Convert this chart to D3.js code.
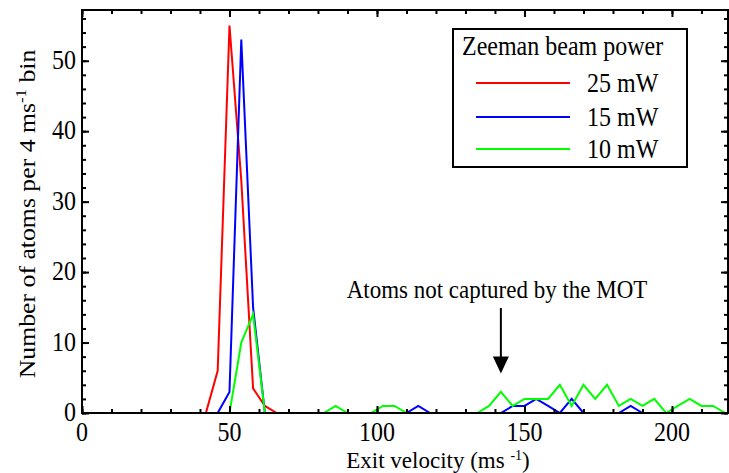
<!DOCTYPE html>
<html>
<head>
<meta charset="utf-8">
<script src="https://cdn.jsdelivr.net/npm/d3@7"></script>
<style>
  html, body { margin: 0; padding: 0; background: #fff; }
  svg { display: block; font-family: "Liberation Serif", "Times New Roman", serif; }
</style>
</head>
<body>
<svg id="chart" width="729" height="473"></svg>
<script>
// Bin centres of the 4 ms^-1 velocity histogram
const velocity = [2, 6, 10, 14, 18, 22, 26, 30, 34, 38, 42, 46, 50, 54, 58, 62, 66, 70, 74, 78,
  82, 86, 90, 94, 98, 102, 106, 110, 114, 118, 122, 126, 130, 134, 138, 142, 146, 150, 154, 158,
  162, 166, 170, 174, 178, 182, 186, 190, 194, 198, 202, 206, 210, 214, 218];

// Atom counts per bin for each Zeeman beam power
const counts25mW = [0, 0, 0, 0, 0, 0, 0, 0, 0, 0, 0, 6, 55, 33, 3.5, 1, 0, 0, 0, 0,
  0, 0, 0, 0, 0, 0, 0, 0, 0, 0, 0, 0, 0, 0, 0, 0, 0, 0, 0, 0,
  0, 0, 0, 0, 0, 0, 0, 0, 0, 0, 0, 0, 0, 0, 0];
const counts15mW = [0, 0, 0, 0, 0, 0, 0, 0, 0, 0, 0, 0, 3, 53, 15, 0, 0, 0, 0, 0,
  0, 0, 0, 0, 0, 0, 0, 0, 1, 0, 0, 0, 0, 0, 0, 0, 1, 1, 2, 1,
  0, 2, 0, 0, 0, 0, 1, 0, 0, 0, 0, 0, 0, 0, 0];
const counts10mW = [0, 0, 0, 0, 0, 0, 0, 0, 0, 0, 0, 0, 0, 10, 14, 0, 0, 0, 0, 0,
  0, 1, 0, 0, 0, 1, 1, 0, 0, 0, 0, 0, 0, 0, 1, 3, 1, 2, 2, 2,
  4, 1, 4, 2, 4, 1, 2, 1, 2, 0, 1, 2, 1, 1, 0];

const seriesLabels = ["25 mW", "15 mW", "10 mW"];
const seriesColors = ["#ff0000", "#0000ff", "#00ff00"];

const xMajorTicks = [0, 50, 100, 150, 200];
const xMinorTicks = d3.range(0, 220, 10);
const yMajorTicks = [0, 10, 20, 30, 40, 50];
const yMinorTicks = d3.range(0, 58, 2);

// Annotation arrow (data units)
const arrowVelocity = 142;
const arrowTop = 14.9;
const arrowTip = 5.6;

const FONT = 23;      // base font size
const STRETCH = 1.12; // glyphs are drawn slightly tall

const svg = d3.select("#chart");
const plot = { left: 82, right: 728, top: 10, bottom: 413 };

const x = d3.scaleLinear().domain([0, 219]).range([plot.left, plot.right]);
const y = d3.scaleLinear().domain([0, 57.2]).range([plot.bottom, plot.top]);

const series = [counts25mW, counts15mW, counts10mW].map((vals, i) => ({
  label: seriesLabels[i],
  color: seriesColors[i],
  points: velocity.map((v, j) => [v, vals[j]])
}));

const line = d3.line().x(d => x(d[0])).y(d => y(d[1]));

// Text helper: places a text at (tx, ty) with an optional vertical stretch
function tallText(parent, tx, ty, anchor, size, stretch) {
  return parent.append("g")
    .attr("transform", `translate(${tx},${ty}) scale(1,${stretch || STRETCH})`)
    .append("text")
    .attr("text-anchor", anchor || "start")
    .attr("font-size", size || FONT)
    .attr("fill", "#000");
}

// Data lines
svg.append("g")
  .selectAll("path")
  .data(series)
  .join("path")
  .attr("d", d => line(d.points))
  .attr("fill", "none")
  .attr("stroke", d => d.color)
  .attr("stroke-width", 2);

// Inward ticks on all four sides
function tickMarks(axis, pos, values, size) {
  const g = svg.append("g").attr("transform", pos)
    .call(axis.tickValues(values).tickSize(-size).tickFormat(""));
  g.select(".domain").remove();
  g.selectAll(".tick line").attr("stroke", "#000").attr("stroke-width", 2);
  return g;
}
tickMarks(d3.axisBottom(x), `translate(0,${plot.bottom})`, xMinorTicks, 4);
tickMarks(d3.axisBottom(x), `translate(0,${plot.bottom})`, xMajorTicks, 7);
tickMarks(d3.axisTop(x), `translate(0,${plot.top})`, xMinorTicks, 4);
tickMarks(d3.axisTop(x), `translate(0,${plot.top})`, xMajorTicks, 7);
tickMarks(d3.axisLeft(y), `translate(${plot.left},0)`, yMinorTicks, 4);
tickMarks(d3.axisLeft(y), `translate(${plot.left},0)`, yMajorTicks, 7);
tickMarks(d3.axisRight(y), `translate(${plot.right},0)`, yMinorTicks, 4);
tickMarks(d3.axisRight(y), `translate(${plot.right},0)`, yMajorTicks, 7);

// Tick labels
const TICK_FONT = 24;
const tickLabels = svg.append("g");
xMajorTicks.forEach(v => {
  tallText(tickLabels, x(v), 441, "middle", TICK_FONT).text(v);
});
yMajorTicks.forEach(v => {
  tallText(tickLabels, 76, y(v) + 8, "end", TICK_FONT).text(v);
});

// Plot frame
svg.append("rect")
  .attr("x", plot.left).attr("y", plot.top)
  .attr("width", plot.right - plot.left).attr("height", plot.bottom - plot.top)
  .attr("fill", "none").attr("stroke", "#000").attr("stroke-width", 2);

// Axis titles
const xTitle = tallText(svg, 438, 468, "middle", 23, 1);
xTitle.append("tspan").text("Exit velocity (ms ");
xTitle.append("tspan").attr("font-size", 14).attr("dy", -8).text("-1");
xTitle.append("tspan").attr("dy", 8).text(")");

const yTitle = svg.append("g")
  .attr("transform", `translate(35,214) rotate(-90) scale(${STRETCH},1)`)
  .append("text")
  .attr("text-anchor", "middle").attr("font-size", FONT).attr("fill", "#000");
yTitle.append("tspan").text("Number of atoms per 4 ms");
yTitle.append("tspan").attr("font-size", FONT * 0.65).attr("dy", -9).text("-1");
yTitle.append("tspan").attr("dy", 9).text(" bin");

// Annotation
tallText(svg, 497, 298, "middle").text("Atoms not captured by the MOT");

const ax = x(arrowVelocity);
svg.append("line")
  .attr("x1", ax).attr("x2", ax)
  .attr("y1", y(arrowTop)).attr("y2", y(arrowTip) - 12)
  .attr("stroke", "#000").attr("stroke-width", 2);
svg.append("path")
  .attr("d", `M${ax - 8},${y(arrowTip) - 17} L${ax + 8},${y(arrowTip) - 17} L${ax},${y(arrowTip)} Z`)
  .attr("fill", "#000");

// Legend
const LEGEND_FONT = 24;
const legend = svg.append("g");
legend.append("rect")
  .attr("x", 453).attr("y", 29).attr("width", 234).attr("height", 138)
  .attr("fill", "#fff").attr("stroke", "#000").attr("stroke-width", 2);
tallText(legend, 462, 55, "start", LEGEND_FONT).text("Zeeman beam power");
const rowY = [83, 117, 149];
series.forEach((s, i) => {
  legend.append("line")
    .attr("x1", 476).attr("x2", 570)
    .attr("y1", rowY[i]).attr("y2", rowY[i])
    .attr("stroke", s.color).attr("stroke-width", 2);
  tallText(legend, 587, rowY[i] + 8.5, "start", LEGEND_FONT).text(s.label);
});
</script>
</body>
</html>
